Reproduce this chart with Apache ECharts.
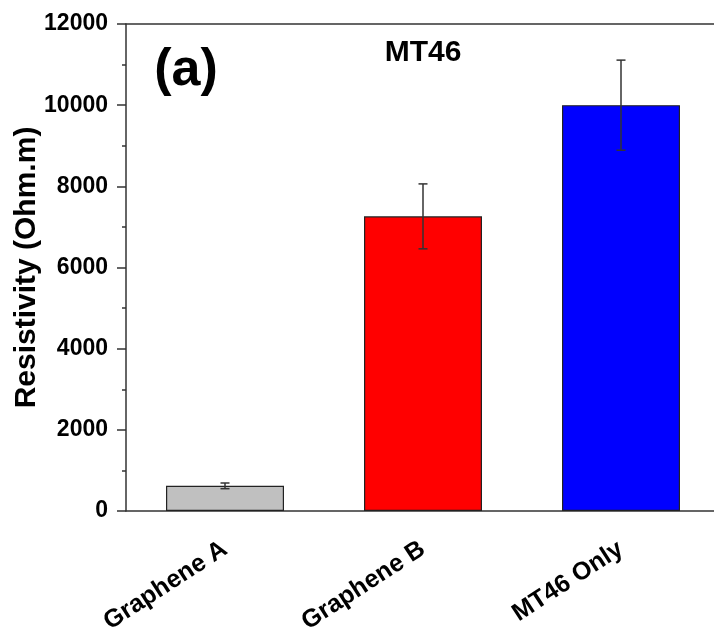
<!DOCTYPE html>
<html>
<head>
<meta charset="utf-8">
<script src="https://cdn.jsdelivr.net/npm/echarts@6/dist/echarts.min.js"></script>
<style>
  html, body { margin: 0; padding: 0; background: #fff; }
  #chart { width: 714px; height: 642px; }
</style>
</head>
<body>
<div id="chart"></div>
<script>
const categories = ["Graphene A", "Graphene B", "MT46 Only"];
const resistivity = [620, 7260, 10000];
const errors = [70, 800, 1110];
const barColors = ["#c0c0c0", "#ff0000", "#0000ff"];

const font = "Liberation Sans, Arial, sans-serif";
const axisColor = "#333";

const chart = echarts.init(document.getElementById("chart"));

const option = {
  animation: false,
  backgroundColor: "#fff",
  title: [
    {
      text: "MT46",
      left: 418,
      top: 33,
      textAlign: "center",
      textStyle: { fontFamily: font, fontWeight: "bold", fontSize: 30, color: "#000" }
    },
    {
      text: "(a)",
      left: 181,
      top: 40,
      textAlign: "center",
      textStyle: { fontFamily: font, fontWeight: "bold", fontSize: 52, color: "#000" }
    }
  ],
  grid: {
    left: 126,
    top: 24,
    width: 594,
    height: 487,
    outerBoundsMode: "none",
    containLabel: false
  },
  xAxis: [
    {
      type: "category",
      data: categories,
      position: "bottom",
      axisLine: { lineStyle: { color: axisColor, width: 1.5 } },
      axisTick: { alignWithLabel: true, length: 9, lineStyle: { color: axisColor, width: 1.5 } },
      axisLabel: {
        rotate: 33,
        margin: 36,
        fontFamily: font,
        fontWeight: "bold",
        fontSize: 25,
        color: "#000"
      }
    },
    {
      // short ticks between categories
      type: "category",
      data: categories,
      position: "bottom",
      axisLine: { show: false },
      axisTick: { length: 5, lineStyle: { color: axisColor, width: 1.5 } },
      axisLabel: { show: false }
    },
    {
      // top border line
      type: "category",
      data: categories,
      position: "top",
      axisLine: { lineStyle: { color: axisColor, width: 1.5 } },
      axisTick: { show: false },
      axisLabel: { show: false }
    }
  ],
  yAxis: {
    type: "value",
    min: 0,
    max: 12000,
    interval: 2000,
    name: "Resistivity (Ohm.m)",
    nameLocation: "middle",
    nameGap: 84,
    nameMoveOverlap: false,
    nameTextStyle: { fontFamily: font, fontWeight: "bold", fontSize: 30, color: "#000" },
    axisLine: { show: true, lineStyle: { color: axisColor, width: 1.5 } },
    axisTick: { show: true, length: 9, lineStyle: { color: axisColor, width: 1.5 } },
    minorTick: { show: true, splitNumber: 2, length: 4, lineStyle: { color: axisColor, width: 1.5 } },
    splitLine: { show: false },
    axisLabel: {
      margin: 18,
      fontFamily: font,
      fontWeight: "bold",
      fontSize: 23,
      color: "#000",
      formatter: (v) => String(v)
    }
  },
  series: [
    {
      type: "bar",
      barWidth: 118,
      data: resistivity.map((v, i) => ({
        value: v,
        itemStyle: { color: barColors[i] }
      })),
      itemStyle: { borderColor: "#222", borderWidth: 1.2 }
    },
    {
      type: "custom",
      data: resistivity.map((v, i) => [i, v - errors[i], v + errors[i]]),
      z: 10,
      renderItem: function (params, api) {
        const lo = api.coord([api.value(0), api.value(1)]);
        const hi = api.coord([api.value(0), api.value(2)]);
        const cap = 4.5;
        const style = { stroke: "#333", lineWidth: 1.5 };
        return {
          type: "group",
          children: [
            { type: "line", shape: { x1: hi[0], y1: hi[1], x2: lo[0], y2: lo[1] }, style: style },
            { type: "line", shape: { x1: hi[0] - cap, y1: hi[1], x2: hi[0] + cap, y2: hi[1] }, style: style },
            { type: "line", shape: { x1: lo[0] - cap, y1: lo[1], x2: lo[0] + cap, y2: lo[1] }, style: style }
          ]
        };
      }
    }
  ]
};

chart.setOption(option);
</script>
</body>
</html>
